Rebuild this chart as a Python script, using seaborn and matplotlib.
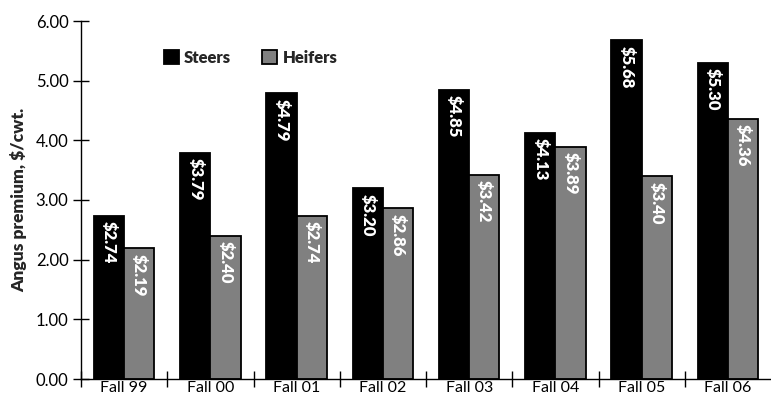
import matplotlib
matplotlib.use("Agg")
import matplotlib.pyplot as plt
import seaborn as sns
import pandas as pd
from matplotlib.ticker import FixedLocator, NullFormatter

seasons = ["Fall 99", "Fall 00", "Fall 01", "Fall 02", "Fall 03", "Fall 04", "Fall 05", "Fall 06"]
steers = [2.74, 3.79, 4.79, 3.20, 4.85, 4.13, 5.68, 5.30]
heifers = [2.19, 2.40, 2.74, 2.86, 3.42, 3.89, 3.40, 4.36]
series = ["Steers", "Heifers"]
colors = ["#000000", "#808080"]
yticks = [0, 1, 2, 3, 4, 5, 6]

df = pd.DataFrame({
    "season": seasons * 2,
    "premium": steers + heifers,
    "sex": [series[0]] * len(seasons) + [series[1]] * len(seasons),
})

sns.set_theme(style="white")
plt.rcParams["font.family"] = ["Lato", "DejaVu Sans"]

fig = plt.figure(figsize=(7.71, 4.0), dpi=100)
ax = fig.add_axes([81 / 771, 21 / 400, (771 - 81) / 771, 358 / 400])

sns.barplot(data=df, x="season", y="premium", hue="sex", order=seasons,
            hue_order=series, palette=colors, edgecolor="black", linewidth=1.3,
            width=0.7, saturation=1, ax=ax)

for cont, vals in zip(ax.containers, [steers, heifers]):
    for patch, v in zip(cont.patches, vals):
        ax.annotate(f"${v:.2f}", xy=(patch.get_x() + patch.get_width() / 2, patch.get_height()),
                    xytext=(0, -4), textcoords="offset points", rotation=270,
                    ha="center", va="top", color="white", fontsize=12, fontweight="heavy")

ax.set_xlim(-0.5, len(seasons) - 0.5)
ax.set_ylim(0, 6)
ax.set_yticks(yticks)
ax.set_yticklabels([f"{t:.2f}" for t in yticks])
ax.xaxis.set_minor_locator(FixedLocator([i - 0.5 for i in range(len(seasons))]))
ax.xaxis.set_minor_formatter(NullFormatter())
ax.tick_params(axis="x", which="major", length=0, pad=1.5, labelsize=11.5, colors="black")
ax.tick_params(axis="x", which="minor", length=11, direction="inout", width=1, color="black", bottom=True)
ax.tick_params(axis="y", which="major", length=12, direction="inout", width=1, pad=3, labelsize=12, colors="black", left=True)

for s in ["top", "right"]:
    ax.spines[s].set_visible(False)
for s in ["left", "bottom"]:
    ax.spines[s].set_color("black")
    ax.spines[s].set_linewidth(1)

ax.set_xlabel("")
ax.set_ylabel("Angus premium, $/cwt.", fontsize=12.5, fontweight="heavy", labelpad=6)

leg = ax.legend(loc="center left", bbox_to_anchor=(0.098, 0.897), ncol=2, frameon=False,
                handlelength=0.9, handleheight=0.9, handletextpad=0.3, columnspacing=1.9,
                prop={"size": 12, "weight": "heavy"})

fig.savefig("out.png", dpi=100)
